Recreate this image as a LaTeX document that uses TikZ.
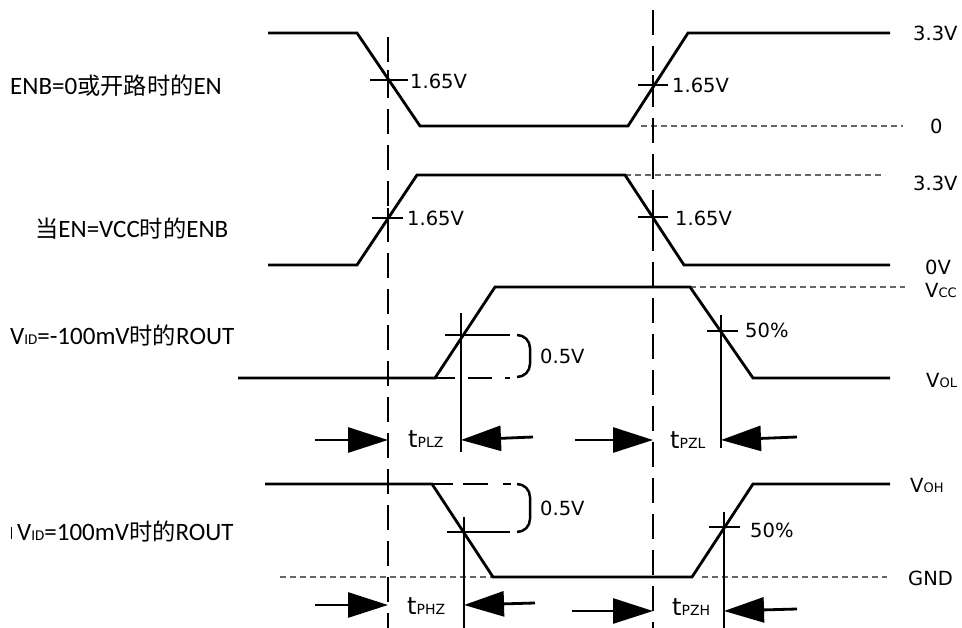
\documentclass[tikz,border=0pt]{standalone}
\usepackage{fontspec}
\setmainfont{DejaVu Sans}
\newfontfamily\lblfont{Carlito}
\newfontfamily\cjk[Scale=0.93]{Noto Sans CJK SC}
\usetikzlibrary{arrows.meta}
\newcommand\smcap[2]{{\fontsize{#1}{#1}\selectfont #2}}
\tikzset{
  wave/.style={line width=2.8pt, line join=miter},
  vdash/.style={line width=2.8pt, dash pattern=on 25pt off 11pt},
  thindash/.style={line width=1.1pt, draw=black!60, dash pattern=on 6pt off 4pt},
  tickline/.style={line width=2.8pt},
  dimarrow/.style={line width=2.8pt, -{Triangle[length=40pt,width=25pt]}},
  leftlbl/.style={font=\lblfont\fontsize{25}{29}\selectfont, anchor=west, inner sep=0pt},
  vallbl/.style={font=\fontsize{19.5}{22}\selectfont, anchor=west, inner sep=0pt},
  tlbl/.style={font=\fontsize{24}{26}\selectfont, anchor=west, inner sep=0pt},
}
\begin{document}
\begin{tikzpicture}[x=1pt,y=-1pt]
\useasboundingbox (0,0) rectangle (962,628);
\fill[white] (0,0) rectangle (962,628);

% thin dashed reference lines
\draw[thindash] (641,126) -- (903,126);
\draw[thindash] (625,175) -- (885,175);
\draw[thindash] (690,287) -- (905,287);
\draw[thindash] (280,577) -- (493,577);
\draw[thindash] (702,577) -- (887,577);

% vertical dashed lines
\coordinate (vl1) at (388,37);
\coordinate (vl2) at (388,628);
\coordinate (vr1) at (653,10);
\coordinate (vr2) at (653,628);
\draw[vdash] (vl1) -- (vl2);
\draw[vdash] (vr1) -- (vr2);

% waveform 1
\draw[wave] (268,33) -- (357,33) -- (420,126) -- (628,126) -- (688,33) -- (890,33);
% waveform 2
\draw[wave] (268,265) -- (357,265) -- (417,175) -- (625,175) -- (684,265) -- (890,265);
% waveform 3
\draw[wave] (238,378) -- (435,378) -- (495,287) -- (690,287) -- (753,378) -- (890,378);
\draw[wave] (435,378) -- (455,378);
\draw[wave] (468,378) -- (492,378);
\draw[wave] (505,378) -- (510,378);
% waveform 4
\draw[wave] (265,484) -- (432,484) -- (493,577) -- (692,577) -- (753,484) -- (890,484);
\draw[wave] (432,484) -- (453,484);
\draw[wave] (463,484) -- (488,484);
\draw[wave] (503,484) -- (511,484);

% crossing marks waveform 1/2
\draw[tickline] (370,80) -- (408,80) (388,70) -- (388,90);
\draw[tickline] (638,85) -- (668,85) (653,75) -- (653,95);
\draw[tickline] (372,218) -- (403,218) (388,208) -- (388,228);
\draw[tickline] (638,217) -- (668,217) (653,207) -- (653,227);

% waveform 3 markers
\draw[tickline] (445,335) -- (510,335);
\draw[tickline] (461,313) -- (461,452);
\draw[tickline] (707,331) -- (738,331);
\draw[tickline] (721,315) -- (721,448);
\draw[line width=2.5pt] (517,335) to[out=0,in=90] (530,348) -- (530,364) to[out=-90,in=0] (517,377);

% waveform 4 markers
\draw[tickline] (447,532) -- (510,532);
\draw[tickline] (464,517) -- (464,628);
\draw[tickline] (709,527) -- (740,527);
\draw[tickline] (724,512) -- (724,628);
\draw[line width=2.5pt] (517,484) to[out=0,in=90] (530,497) -- (530,519) to[out=-90,in=0] (517,532);

% dimension arrows row 1
\coordinate (a1t) at (315,440); \coordinate (a1h) at (388,440);
\coordinate (a2t) at (533,437); \coordinate (a2h) at (461,440);
\coordinate (a3t) at (575,440); \coordinate (a3h) at (653,440);
\coordinate (a4t) at (797,437); \coordinate (a4h) at (721,440);
\draw[dimarrow] (a1t) -- (a1h);
\draw[dimarrow] (a2t) -- (a2h);
\draw[dimarrow] (a3t) -- (a3h);
\draw[dimarrow] (a4t) -- (a4h);
% dimension arrows row 2
\coordinate (b1t) at (315,605); \coordinate (b1h) at (388,605);
\coordinate (b2t) at (535,603); \coordinate (b2h) at (464,605);
\coordinate (b3t) at (572,611); \coordinate (b3h) at (653,611);
\coordinate (b4t) at (797,609); \coordinate (b4h) at (724,611);
\draw[dimarrow] (b1t) -- (b1h);
\draw[dimarrow] (b2t) -- (b2h);
\draw[dimarrow] (b3t) -- (b3h);
\draw[dimarrow] (b4t) -- (b4h);

% time labels
\node[tlbl] (tplz) at (408,439) {t\smcap{14}{PLZ}};
\node[tlbl] (tpzl) at (670,440) {t\smcap{14}{PZL}};
\node[tlbl] (tphz) at (407,606) {t\smcap{14}{PHZ}};
\node[tlbl] (tpzh) at (672,607) {t\smcap{14}{PZH}};

% value labels
\node[vallbl] (v1a) at (410,81) {1.65V};
\node[vallbl] (v1b) at (672,85) {1.65V};
\node[vallbl] (v2a) at (407,218) {1.65V};
\node[vallbl] (v2b) at (675,218) {1.65V};
\node[vallbl] (h3) at (540,356) {0.5V};
\node[vallbl] (h4) at (540,508) {0.5V};
\node[vallbl] (p3) at (745,330) {50\%};
\node[vallbl] (p4) at (750,530) {50\%};

% right labels
\node[vallbl] (r1) at (913,33) {3.3V};
\node[vallbl] (r2) at (930,126) {0};
\node[vallbl] (r3) at (913,183) {3.3V};
\node[vallbl] (r4) at (925,267) {0V};
\node[vallbl] (r5) at (925,290) {V\smcap{13}{CC}};
\node[vallbl] (r6) at (926,380) {V\smcap{13}{OL}};
\node[vallbl] (r7) at (910,485) {V\smcap{13}{OH}};
\node[vallbl] (r8) at (908,578) {GND};

% left labels
\node[leftlbl] (l1) at (10,86) {ENB=0{\cjk 或开路时的}EN};
\node[leftlbl] (l2) at (35,229) {{\cjk 当}EN=VCC{\cjk 时的}ENB};
\node[leftlbl] (l3) at (10,336) {V\smcap{15}{ID}=-100mV{\cjk 时的}ROUT};
\node[leftlbl] (l4) at (17,532) {V\smcap{15}{ID}=100mV{\cjk 时的}ROUT};
\draw[line width=1pt] (11,527) -- (11,539);
\end{tikzpicture}
\end{document}
